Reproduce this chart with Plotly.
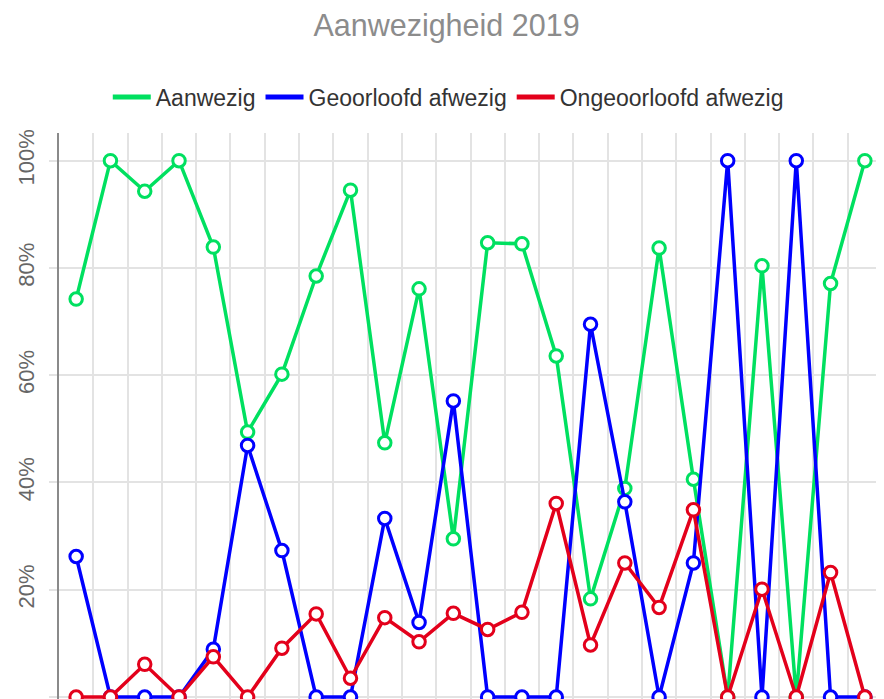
import plotly.graph_objects as go

categories = list(range(1, 25))

aanwezig = [74.2, 100, 94.3, 100, 83.9, 49.4, 60.2, 78.5, 94.5, 47.4, 76.1, 29.5,
            84.7, 84.5, 63.6, 18.3, 38.9, 83.7, 40.6, 0, 80.4, 0, 77.1, 100]
geoorloofd = [26.2, 0, 0, 0, 8.9, 46.9, 27.3, 0, 0, 33.3, 13.9, 55.2,
              0, 0, 0, 69.5, 36.4, 0, 25.0, 100, 0, 100, 0, 0]
ongeoorloofd = [0, 0, 6.1, 0, 7.5, 0, 9.1, 15.5, 3.5, 14.8, 10.3, 15.6,
                12.6, 15.8, 36.1, 9.7, 25.0, 16.7, 34.9, 0, 20.1, 0, 23.2, 0]

series_names = ["Aanwezig", "Geoorloofd afwezig", "Ongeoorloofd afwezig"]
series_colors = ["#00e060", "#0000ff", "#e3001b"]
y_ticks = [0, 20, 40, 60, 80, 100]
y_tick_labels = ["0%", "20%", "40%", "60%", "80%", "100%"]

fig = go.Figure()
for name, vals, col in zip(series_names, [aanwezig, geoorloofd, ongeoorloofd], series_colors):
    fig.add_trace(go.Scatter(
        x=categories, y=vals, name=name, mode="lines+markers",
        line=dict(color=col, width=3.5),
        marker=dict(symbol="circle", size=12.5, color="white",
                    line=dict(color=col, width=3)),
        showlegend=False, legendgroup=name,
    ))
# legend-only entries (plain thick line symbol)
for name, col in zip(series_names, series_colors):
    fig.add_trace(go.Scatter(
        x=[None], y=[None], name=name, mode="lines",
        line=dict(color=col, width=5), legendgroup=name, showlegend=True,
    ))

# the page body has an 8px default margin, so the figure is 8px smaller
W, H = 876, 691
FONT = "Liberation Sans, Arial, sans-serif"
fig.update_layout(
    width=W, height=H,
    margin=dict(l=51, r=1.5, t=125, b=0, autoexpand=False),
    paper_bgcolor="white", plot_bgcolor="white",
    font=dict(family=FONT),
    title=dict(text="Aanwezigheid 2019", x=438.5 / W, xanchor="center",
               y=1 - 17 / H, yanchor="middle",
               font=dict(size=30.5, color="#8c8c8c", family=FONT)),
    legend=dict(orientation="h", x=0.473, xanchor="center",
                y=1 + 36 / 566, yanchor="middle",
                font=dict(size=23, color="#333333", family=FONT),
                itemwidth=38, bgcolor="rgba(0,0,0,0)"),
    showlegend=True,
)
fig.update_xaxes(range=[0.5, 24.5], tick0=0.5, dtick=1, showgrid=True,
                 gridcolor="#e3e3e3", gridwidth=1.5, showticklabels=False,
                 zeroline=False, showline=False, ticks="", automargin=False)
fig.update_yaxes(range=[-0.37, 105.16], tickvals=y_ticks, ticktext=y_tick_labels,
                 tickangle=-90, tickfont=dict(size=22, color="#666666", family=FONT),
                 showgrid=True, gridcolor="#e3e3e3", gridwidth=1.5,
                 zeroline=False, showline=True, linecolor="#8a8a8a", linewidth=1.5,
                 ticks="outside", ticklen=8, tickcolor="#e3e3e3", tickwidth=1.5,
                 ticklabelstandoff=6, automargin=False)

fig.write_html("out.html")
